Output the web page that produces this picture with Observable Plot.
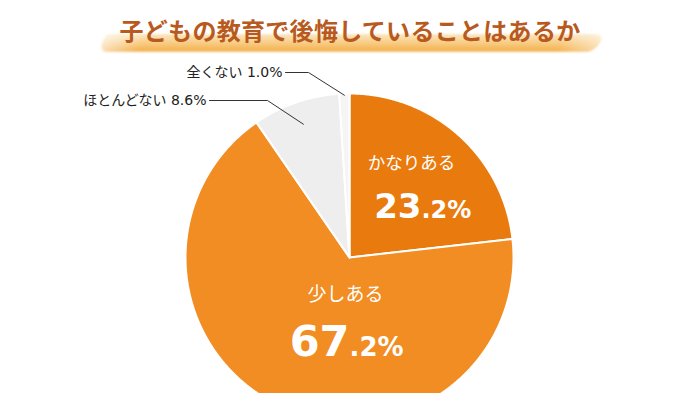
<!DOCTYPE html>
<html>
<head>
<meta charset="utf-8">
<script src="https://cdn.jsdelivr.net/npm/d3@7"></script>
<script src="https://cdn.jsdelivr.net/npm/@observablehq/plot@0.6"></script>
<style>
  html, body { margin: 0; padding: 0; background: #fff; }
  #wrap { width: 700px; height: 393px; overflow: hidden; position: relative; }
  #title { position: relative; height: 60px; width: 700px; }
  #brush {
    position: absolute; left: 102px; top: 34px; width: 498px; height: 18px;
    background:
      linear-gradient(90deg, rgba(255,255,255,0.6) 0%, rgba(255,255,255,0) 8%, rgba(255,255,255,0) 92%, rgba(255,255,255,0.5) 100%),
      linear-gradient(180deg, rgba(250,222,170,0.7) 0%, rgba(247,195,110,0.85) 50%, rgba(243,170,62,0.95) 100%);
    border-radius: 3px 8px 10px 10px;
    transform: skewX(-25deg);
    filter: blur(1px);
  }
  #title h1 {
    position: absolute; left: 0; right: 0; top: 12px; margin: 0;
    text-align: center; font-family: "Noto Sans CJK JP", sans-serif;
    font-size: 24px; font-weight: 700; color: #B85A20; line-height: 36px; letter-spacing: 0.3px;
  }
</style>
</head>
<body>
<div id="wrap">
  <div id="title"><div id="brush"></div><h1>子どもの教育で後悔していることはあるか</h1></div>
  <div id="chart"></div>
</div>
<script>
// ---- data ----
const categories = ["かなりある", "少しある", "ほとんどない", "全くない"];
const values = [23.2, 67.2, 8.6, 1.0];
const colors = ["#E97A0E", "#F18D23", "#EEEEEE", "#F5F5F5"];

// ---- layout ----
const W = 700, H = 333;
const cx = 349, cy = 197, R = 164;         // pie centre (px) and radius
const X = px => (px - cx) / R;             // pixel -> data helpers
const Y = py => (cy - py) / R;

// angles (degrees, clockwise from top)
const total = d3.sum(values);
let acc = 0;
const slices = values.map((v, i) => {
  const a0 = acc / total * 360; acc += v;
  const a1 = acc / total * 360;
  return {cat: categories[i], value: v, a0, a1, color: colors[i]};
});
const pt = (deg, r) => ({x: r * Math.sin(deg * Math.PI / 180), y: r * Math.cos(deg * Math.PI / 180)});

function slicePoly(s) {
  const pts = [{x: 0, y: 0}];
  const n = Math.max(2, Math.ceil((s.a1 - s.a0) / 0.25));
  for (let k = 0; k <= n; k++) pts.push(pt(s.a0 + (s.a1 - s.a0) * k / n, 1));
  pts.push({x: 0, y: 0});
  return pts;
}

const fmtInt = v => String(Math.floor(v));
const fmtFrac = v => "." + Math.round((v - Math.floor(v)) * 10) + "%";

// inside labels (pixel positions)
const inside = [
  {i: 0, lx: 411, ly: 103, nx: 421, ny: 157, nameSize: 17.5, intSize: 34, fracSize: 24},
  {i: 1, lx: 345, ly: 234, nx: 349, ny: 295, nameSize: 19, intSize: 43, fracSize: 26}
];
// outside labels with leader lines
const outside = [
  {i: 3, tx: 282, ty: 12, ex: 308, r: 0.99},
  {i: 2, tx: 206, ty: 40, ex: 267, r: 0.86}
];

const marks = [];
slices.forEach(s => {
  marks.push(Plot.line(slicePoly(s), {x: "x", y: "y", fill: s.color, stroke: "white", strokeWidth: 2, strokeLinejoin: "round"}));
});
inside.forEach(o => {
  const s = slices[o.i];
  marks.push(Plot.text([s], {x: () => X(o.lx), y: () => Y(o.ly), text: "cat", fill: "white",
    fontSize: o.nameSize, fontFamily: "Noto Sans CJK JP", textAnchor: "middle"}));
  marks.push(Plot.text([s], {x: () => X(o.nx), y: () => Y(o.ny), text: d => fmtInt(d.value), fill: "white",
    fontSize: o.intSize, fontWeight: "bold", fontFamily: "DejaVu Sans", textAnchor: "end", lineAnchor: "bottom"}));
  marks.push(Plot.text([s], {x: () => X(o.nx), y: () => Y(o.ny), text: d => fmtFrac(d.value), fill: "white",
    fontSize: o.fracSize, fontWeight: "bold", fontFamily: "DejaVu Sans", textAnchor: "start", lineAnchor: "bottom"}));
});
outside.forEach(o => {
  const s = slices[o.i];
  const mid = (s.a0 + s.a1) / 2;
  const end = pt(mid, o.r);
  const path = [{x: X(o.tx + 3), y: Y(o.ty)}, {x: X(o.ex), y: Y(o.ty)}, end];
  marks.push(Plot.line(path, {x: "x", y: "y", stroke: "#333", strokeWidth: 1}));
  marks.push(Plot.text([s], {x: () => X(o.tx), y: () => Y(o.ty), text: d => `${d.cat} ${d.value.toFixed(1)}%`,
    fill: "#222", fontSize: 14, fontFamily: "DejaVu Sans, Noto Sans CJK JP", textAnchor: "end"}));
});

const chart = Plot.plot({
  width: W, height: H,
  margin: 0,
  x: {domain: [X(0), X(W)], axis: null},
  y: {domain: [Y(H), Y(0)], axis: null},
  style: {background: "transparent", overflow: "hidden"},
  marks
});
document.getElementById("chart").appendChild(chart);
</script>
</body>
</html>
